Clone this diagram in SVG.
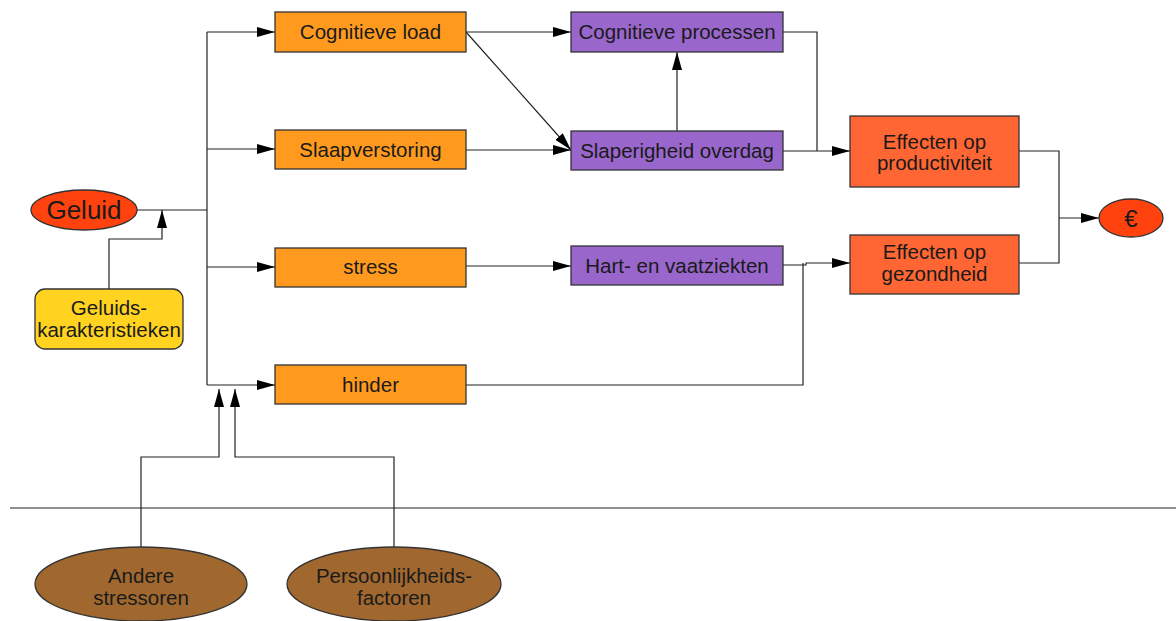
<svg xmlns="http://www.w3.org/2000/svg" width="1176" height="621" viewBox="0 0 1176 621">
<style>
  text { font-family: "Liberation Sans", Arial, sans-serif; font-size: 20.5px; fill: #1a1a1a; text-anchor: middle; }
  .box { stroke: #333; stroke-width: 1.3; }
  .or { fill: #ff9a1e; }
  .pu { fill: #9966cc; }
  .ef { fill: #ff6633; }
  .rd { fill: #ff420e; }
  .ye { fill: #ffd320; }
  .br { fill: #a0682f; }
  .ln { fill: none; stroke: #222; stroke-width: 1.2; }
</style>
<defs>
  <marker id="arr" markerWidth="18" markerHeight="10" refX="18" refY="5" orient="auto" markerUnits="userSpaceOnUse">
    <path d="M0,0 L18,5 L0,10 z" fill="#000"/>
  </marker>
</defs>
<rect width="1176" height="621" fill="#fff"/>

<g id="connectors">
  <line class="ln" x1="10" y1="508" x2="1176" y2="508"/>
  <line class="ln" x1="137" y1="210" x2="207" y2="210"/>
  <line class="ln" x1="207" y1="32" x2="207" y2="385"/>
  <line class="ln" x1="207" y1="32" x2="275" y2="32" marker-end="url(#arr)"/>
  <line class="ln" x1="207" y1="149" x2="275" y2="149" marker-end="url(#arr)"/>
  <line class="ln" x1="207" y1="267" x2="275" y2="267" marker-end="url(#arr)"/>
  <line class="ln" x1="207" y1="385" x2="275" y2="385" marker-end="url(#arr)"/>
  <path class="ln" d="M109,289 V239 H162 V210" marker-end="url(#arr)"/>
  <path class="ln" d="M141,547 V457 H219 V389" marker-end="url(#arr)"/>
  <path class="ln" d="M394,547 V457 H235 V389" marker-end="url(#arr)"/>
  <line class="ln" x1="466" y1="32" x2="571" y2="32" marker-end="url(#arr)"/>
  <line class="ln" x1="466" y1="32" x2="571" y2="150" marker-end="url(#arr)"/>
  <line class="ln" x1="466" y1="150" x2="571" y2="150" marker-end="url(#arr)"/>
  <line class="ln" x1="677" y1="131" x2="677" y2="52" marker-end="url(#arr)"/>
  <path class="ln" d="M783,32 H817 V151"/>
  <line class="ln" x1="783" y1="151" x2="850" y2="151" marker-end="url(#arr)"/>
  <line class="ln" x1="466" y1="266" x2="571" y2="266" marker-end="url(#arr)"/>
  <path class="ln" d="M783,265 H806 V263 H850" marker-end="url(#arr)"/>
  <path class="ln" d="M466,385 H803 V263"/>
  <path class="ln" d="M1019,151 H1059 V263 H1019"/>
  <line class="ln" x1="1059" y1="218" x2="1099" y2="218" marker-end="url(#arr)"/>
</g>

<g id="geluid">
  <ellipse class="box rd" cx="84" cy="210" rx="53" ry="20"/>
  <text x="84" y="219" style="font-size:26px">Geluid</text>
</g>
<g id="geluidskarakteristieken">
  <rect class="box ye" x="35" y="289" width="148" height="60" rx="10"/>
  <text x="109" y="315">Geluids-</text>
  <text x="109" y="337">karakteristieken</text>
</g>
<g id="cognitieve-load">
  <rect class="box or" x="275" y="12" width="191" height="40"/>
  <text x="370.5" y="39">Cognitieve load</text>
</g>
<g id="slaapverstoring">
  <rect class="box or" x="275" y="130" width="191" height="39"/>
  <text x="370.5" y="157">Slaapverstoring</text>
</g>
<g id="stress">
  <rect class="box or" x="275" y="248" width="191" height="39"/>
  <text x="370.5" y="274">stress</text>
</g>
<g id="hinder">
  <rect class="box or" x="275" y="365" width="191" height="39"/>
  <text x="370.5" y="392">hinder</text>
</g>
<g id="cognitieve-processen">
  <rect class="box pu" x="571" y="12" width="212" height="40"/>
  <text x="677" y="39">Cognitieve processen</text>
</g>
<g id="slaperigheid-overdag">
  <rect class="box pu" x="571" y="131" width="212" height="39"/>
  <text x="677" y="158">Slaperigheid overdag</text>
</g>
<g id="hart-en-vaatziekten">
  <rect class="box pu" x="571" y="246" width="212" height="39"/>
  <text x="677" y="273">Hart- en vaatziekten</text>
</g>
<g id="effecten-productiviteit">
  <rect class="box ef" x="850" y="116" width="169" height="71"/>
  <text x="934.5" y="149">Effecten op</text>
  <text x="934.5" y="170">productiviteit</text>
</g>
<g id="effecten-gezondheid">
  <rect class="box ef" x="850" y="235" width="169" height="59"/>
  <text x="934.5" y="259">Effecten op</text>
  <text x="934.5" y="281">gezondheid</text>
</g>
<g id="euro">
  <ellipse class="box rd" cx="1131" cy="218" rx="32" ry="19"/>
  <text x="1131" y="227" style="font-size:24px">€</text>
</g>
<g id="andere-stressoren">
  <ellipse class="box br" cx="141" cy="584" rx="106" ry="37"/>
  <text x="141" y="583">Andere</text>
  <text x="141" y="605">stressoren</text>
</g>
<g id="persoonlijkheidsfactoren">
  <ellipse class="box br" cx="394" cy="584" rx="107" ry="37"/>
  <text x="394" y="583">Persoonlijkheids-</text>
  <text x="394" y="605">factoren</text>
</g>
</svg>
